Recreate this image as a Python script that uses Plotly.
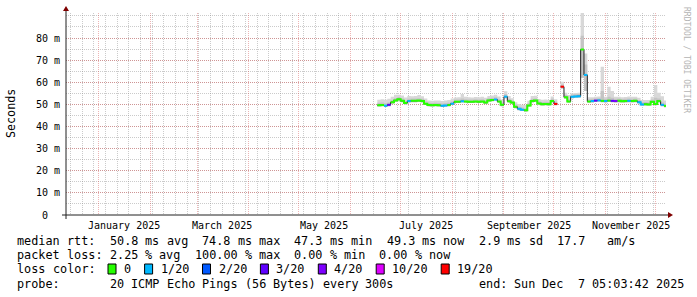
import re
import plotly.graph_objects as go
from datetime import datetime, timedelta

# ---------------- data ----------------
series_start = datetime(2025, 6, 17)
step_days = 2

median_ms = [49.6, 49.7, 49.4, 49.8, 51.0, 51.8, 52.3, 51.6, 50.6, 51.5,
             51.6, 51.6, 51.7, 51.5, 50.3, 49.7, 49.6, 49.7, 49.6, 49.4,
             49.5, 49.7, 50.3, 51.2, 51.2, 51.4, 51.3, 51.2, 51.2, 51.3,
             51.2, 51.3, 50.8, 51.8, 52.0, 52.2, 51.3, 49.8, 53.5, 51.4,
             50.8, 48.9, 48.0, 47.6, 47.3, 49.5, 51.5, 51.7, 50.4, 50.1,
             50.2, 50.1, 51.5, 50.2, None, 58.0, 53.2, 51.3, 53.5, 53.6,
             53.7, 74.8, 63.3, 51.3, 51.5, 51.7, 51.8, 51.6, 51.5, 51.7,
             51.6, 51.5, 51.6, 51.4, 51.5, 51.6, 51.5, 51.6, 51.0, 50.0,
             50.1, 50.0, 51.2, 50.2, 51.5, 49.8, 49.3]

loss_count = [0, 0, 1, 3, 0, 0, 0, 0, 0, 1,
              0, 0, 0, 0, 0, 0, 0, 0, 0, 1,
              1, 0, 1, 0, 0, 1, 0, 0, 0, 0,
              0, 0, 0, 0, 0, 1, 0, 0, 1, 0,
              0, 0, 1, 1, 0, 0, 0, 0, 0, 0,
              0, 0, 0, 19, 20, 19, 0, 0, 1, 1,
              1, 0, 1, 0, 1, 3, 1, 0, 1, 0,
              3, 4, 0, 0, 0, 1, 0, 0, 1, 1,
              0, 0, 0, 0, 0, 1, 0]

smoke_hi = [52.1, 52.3, 52.1, 52.5, 53.4, 54.3, 54.4, 54.0, 53.1, 53.8,
            53.7, 53.8, 54.2, 53.7, 52.6, 51.8, 51.6, 51.7, 51.8, 51.5,
            51.7, 52.0, 52.6, 53.1, 53.2, 54.7, 53.4, 53.2, 53.1, 53.3,
            53.2, 53.4, 53.0, 53.8, 54.0, 54.4, 53.6, 52.2, 55.9, 53.8,
            52.8, 51.0, 50.2, 49.8, 49.7, 51.6, 53.8, 53.9, 52.4, 52.1,
            52.2, 52.0, 53.6, 52.3, None, 60.2, 55.2, 54.2, 55.0, 55.1,
            55.2, 98.0, 73.0, 53.2, 53.2, 53.4, 53.6, 67.0, 53.4, 58.0,
            56.0, 53.4, 53.4, 53.2, 53.3, 53.6, 53.4, 53.5, 53.0, 52.0,
            52.0, 52.0, 53.4, 58.8, 55.3, 53.7, 51.8]

smoke_mid = [50.7, 50.8, 50.5, 50.9, 52.0, 52.8, 53.3, 52.7, 51.6, 52.5,
             52.6, 52.6, 52.8, 52.5, 51.3, 50.7, 50.6, 50.7, 50.6, 50.4,
             50.5, 50.7, 51.3, 52.2, 52.2, 52.6, 52.3, 52.2, 52.2, 52.3,
             52.2, 52.3, 51.8, 52.8, 53.0, 53.2, 52.3, 50.8, 54.6, 52.4,
             51.8, 49.9, 49.0, 48.6, 48.3, 50.5, 52.5, 52.7, 51.4, 51.1,
             51.2, 51.1, 52.5, 51.2, None, 59.0, 54.2, 52.3, 54.5, 54.6,
             54.7, 81.0, 68.0, 52.3, 52.5, 52.7, 52.8, 56.0, 52.5, 53.5,
             53.0, 52.5, 52.6, 52.4, 52.5, 52.6, 52.5, 52.6, 52.0, 51.0,
             51.1, 51.0, 52.2, 53.0, 52.6, 50.8, 50.3]

smoke_lo = [49.0, 49.1, 48.8, 49.2, 50.3, 51.1, 51.6, 51.0, 50.0, 50.9,
            51.0, 51.0, 51.1, 50.9, 49.7, 49.1, 49.0, 49.1, 49.0, 48.8,
            48.9, 49.1, 49.7, 50.6, 50.6, 50.8, 50.7, 50.6, 50.6, 50.7,
            50.6, 50.7, 50.2, 51.2, 51.4, 51.6, 50.7, 49.2, 52.8, 50.8,
            50.2, 48.3, 47.4, 47.0, 46.7, 48.9, 50.9, 51.1, 49.8, 49.5,
            49.6, 49.5, 50.9, 49.6, None, 57.2, 52.5, 50.7, 52.8, 52.9,
            53.0, 62.0, 56.0, 50.7, 50.9, 51.1, 51.2, 51.0, 50.9, 51.1,
            51.0, 50.9, 51.0, 50.8, 50.9, 51.0, 50.9, 51.0, 50.4, 49.4,
            49.5, 49.4, 50.6, 49.6, 50.9, 49.2, 48.7]

loss_classes = [  # (min count, max count, colour, legend label)
    (0, 0, "#26ff00", "0"),
    (1, 1, "#00b8ff", "1/20"),
    (2, 2, "#0059ff", "2/20"),
    (3, 3, "#5e00ff", "3/20"),
    (4, 9, "#7e00ff", "4/20"),
    (10, 18, "#dd00ff", "10/20"),
    (19, 20, "#ff0000", "19/20"),
]

x_range = [datetime(2024, 12, 12, 5, 3, 42), datetime(2025, 12, 7, 5, 3, 42)]
month_label_dates = [datetime(2025, 1, 16), datetime(2025, 3, 16), datetime(2025, 5, 16),
                     datetime(2025, 7, 16), datetime(2025, 9, 16), datetime(2025, 11, 16)]
month_labels = ["January 2025", "March 2025", "May 2025",
                "July 2025", "September 2025", "November 2025"]
ytick_vals = [0, 10, 20, 30, 40, 50, 60, 70, 80]
ytick_text = ["0\u00a0\u00a0", "10 m", "20 m", "30 m", "40 m", "50 m", "60 m", "70 m", "80 m"]
y_max = 91.3

legend_rows = [
    "median rtt:  50.8 ms avg  74.8 ms max  47.3 ms min  49.3 ms now  2.9 ms sd  17.7   am/s",
    "packet loss: 2.25 % avg  100.00 % max  0.00 % min  0.00 % now",
]
loss_color_title = "loss color:"
probe_text = "probe:       20 ICMP Echo Pings (56 Bytes) every 300s"
end_text = "end: Sun Dec  7 05:03:42 2025"
watermark = "RRDTOOL / TOBI OETIKER"

# ---------------- geometry ----------------
W, H = 697, 297
ML, MR, MT, MB = 66, 31, 13, 82
PW, PH = W - ML - MR, H - MT - MB
X0, Y0 = ML, MT + PH  # origin in pixels


def px(xp):
    return (xp - ML) / PW


def py(yp):
    return (Y0 - yp) / PH


MONO = "DejaVu Sans Mono"
GRID = "rgba(140,140,140,0.45)"
MGRID = "rgba(210,60,60,0.38)"
AXIS = "#202020"
ARROW = "#7f0000"
LEG_FS = 11.8
CW = 7.1
LEG_X = 16.4
row_y = [241, 255, 269, 284]

# ---------------- traces ----------------
dates = [series_start + timedelta(days=step_days * i) for i in range(len(median_ms))]
x_step = dates + [dates[-1] + timedelta(days=step_days)]

fig = go.Figure()


def runs(vals):
    out, cur = [], []
    for i, v in enumerate(vals):
        if v is None:
            if cur:
                out.append(cur)
            cur = []
        else:
            cur.append(i)
    if cur:
        out.append(cur)
    return out


def band(lo, hi, color):
    for r in runs(hi):
        xs = [x_step[i] for i in r] + [x_step[r[-1] + 1]]
        ylo = [lo[i] for i in r] + [lo[r[-1]]]
        yhi = [hi[i] for i in r] + [hi[r[-1]]]
        fig.add_trace(go.Scatter(x=xs, y=ylo, mode="lines", line=dict(width=0, shape="hv"),
                                 hoverinfo="skip", showlegend=False))
        fig.add_trace(go.Scatter(x=xs, y=yhi, mode="lines", line=dict(width=0, shape="hv"),
                                 fill="tonexty", fillcolor=color, hoverinfo="skip",
                                 showlegend=False))


band(smoke_lo, smoke_hi, "#d8d8d8")
band(smoke_lo, smoke_mid, "#c4c4c4")

for r in runs(median_ms):
    xs = [x_step[i] for i in r] + [x_step[r[-1] + 1]]
    ys = [median_ms[i] for i in r] + [median_ms[r[-1]]]
    fig.add_trace(go.Scatter(x=xs, y=ys, mode="lines",
                             line=dict(width=1, color="#202020", shape="hv"), showlegend=False))


def cls_of(n):
    for k, (lo, hi, _, _) in enumerate(loss_classes):
        if lo <= n <= hi:
            return k
    return None


cls = [cls_of(n) if v is not None else None for n, v in zip(loss_count, median_ms)]
for k, (_, _, col, lab) in enumerate(loss_classes):
    xs, ys = [], []
    for i, v in enumerate(median_ms):
        if cls[i] != k:
            continue
        xs.append(dates[i]); ys.append(v)
        if i + 1 >= len(median_ms) or cls[i + 1] != k:
            xs.append(x_step[i + 1]); ys.append(v)
            xs.append(None); ys.append(None)
    if xs:
        fig.add_trace(go.Scatter(x=xs, y=ys, mode="lines", connectgaps=False,
                                 line=dict(width=2, color=col, shape="hv"), showlegend=False))

# ---------------- layout ----------------
fig.update_layout(width=W, height=H, margin=dict(l=ML, r=MR, t=MT, b=MB),
                  paper_bgcolor="white", plot_bgcolor="white", showlegend=False,
                  font=dict(family=MONO, color="black"))
fig.update_xaxes(type="date", range=x_range, showticklabels=False, ticks="",
                 dtick="M1", tick0="2025-01-01", showgrid=True, gridcolor=MGRID,
                 griddash="1px,1px", gridwidth=1, zeroline=False, showline=False,
                 minor=dict(dtick=7 * 86400000, tick0="2024-12-29", showgrid=True,
                            gridcolor=GRID, griddash="1px,1px", gridwidth=1))
fig.update_yaxes(range=[0, y_max], tickmode="array", tickvals=ytick_vals, ticktext=ytick_text,
                 showgrid=True, gridcolor=MGRID, griddash="1px,1px", gridwidth=1,
                 zeroline=False, showline=False, ticks="", ticklabelstandoff=5,
                 tickfont=dict(family=MONO, size=10, color="black"),
                 minor=dict(dtick=5, tick0=0, showgrid=True, gridcolor=GRID,
                            griddash="1px,1px", gridwidth=1))

shapes = []
shapes.append(dict(type="line", xref="paper", yref="paper", x0=px(X0 - 4), x1=px(X0 + PW + 4),
                   y0=0, y1=0, line=dict(color=AXIS, width=1)))
shapes.append(dict(type="line", xref="paper", yref="paper", x0=0, x1=0,
                   y0=py(Y0 + 4), y1=py(Y0 - PH - 4), line=dict(color=AXIS, width=1)))
shapes.append(dict(type="path", xref="paper", yref="paper",
                   path=f"M {px(X0 + PW + 2)} {py(Y0 - 3)} L {px(X0 + PW + 2)} {py(Y0 + 3)} L {px(X0 + PW + 7)} {py(Y0)} Z",
                   fillcolor=ARROW, line=dict(width=0)))
shapes.append(dict(type="path", xref="paper", yref="paper",
                   path=f"M {px(X0 - 3)} {py(Y0 - PH - 2)} L {px(X0 + 3)} {py(Y0 - PH - 2)} L {px(X0)} {py(Y0 - PH - 7)} Z",
                   fillcolor=ARROW, line=dict(width=0)))

annotations = []
for d, lab in zip(month_label_dates, month_labels):
    annotations.append(dict(x=d, xref="x", y=py(225), yref="paper", text=lab, showarrow=False,
                            xanchor="center", yanchor="middle", font=dict(family=MONO, size=10)))
annotations.append(dict(x=px(11), y=py(114), xref="paper", yref="paper", text="Seconds",
                        textangle=-90, showarrow=False, xanchor="center", yanchor="middle",
                        font=dict(family=MONO, size=11.7)))
annotations.append(dict(x=px(687), y=py(60), xref="paper", yref="paper", text=watermark,
                        textangle=90, showarrow=False, xanchor="center", yanchor="middle",
                        font=dict(family=MONO, size=8, color="#b4b4b4")))


def mono_text(s, x_start, y_pix):
    """place each run of non-blank characters at its monospace column"""
    for m in re.finditer(r"\S+", s):
        annotations.append(dict(x=px(x_start + m.start() * CW), y=py(y_pix), xref="paper",
                                yref="paper", text=m.group(0), showarrow=False,
                                xanchor="left", yanchor="middle", borderpad=0,
                                font=dict(family=MONO, size=LEG_FS)))


for r, txt in enumerate(legend_rows):
    mono_text(txt, LEG_X, row_y[r])
mono_text(loss_color_title, LEG_X, row_y[2])
bx = 108
for (_, _, col, lab) in loss_classes:
    shapes.append(dict(type="rect", xref="paper", yref="paper", x0=px(bx), x1=px(bx + 8),
                       y0=py(row_y[2] + 5), y1=py(row_y[2] - 5), fillcolor=col,
                       line=dict(color="black", width=1)))
    tx = bx + 15
    mono_text(lab, tx, row_y[2])
    bx = tx + len(lab) * CW + 14.5
mono_text(probe_text, LEG_X, row_y[3])
mono_text(end_text, 477.5, row_y[3])

fig.update_layout(shapes=shapes, annotations=annotations)
fig.write_html("out.html")
